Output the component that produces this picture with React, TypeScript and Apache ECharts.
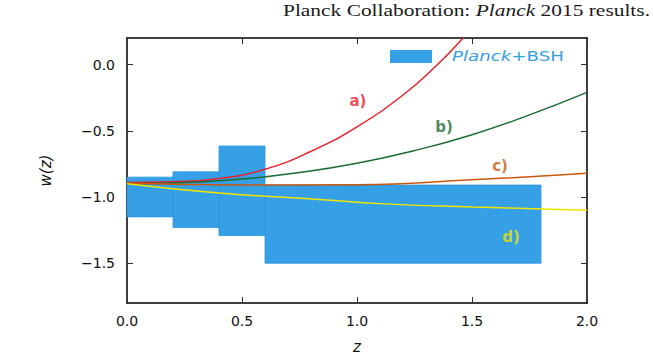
import React, { useEffect, useRef } from "react";
import * as echarts from "echarts";

// Planck+BSH binned w(z) boxes: [zStart, zEnd, wLow, wHigh]
const boxZStart = [0.0, 0.2, 0.4, 0.6];
const boxZEnd = [0.2, 0.4, 0.6, 1.8];
const boxWLow = [-1.15, -1.23, -1.29, -1.5];
const boxWHigh = [-0.85, -0.81, -0.615, -0.91];

// Model curves (z, w)
const curveAZ = [0, 0.2, 0.4, 0.6, 0.8, 1.0, 1.2, 1.35, 1.45, 1.6];
const curveAW = [-0.89, -0.884, -0.86, -0.79, -0.655, -0.47, -0.23, 0.0, 0.18, 0.48];
const curveBZ = [0, 0.25, 0.5, 0.75, 1.0, 1.25, 1.5, 1.75, 2.0];
const curveBW = [-0.9, -0.89, -0.865, -0.815, -0.745, -0.65, -0.53, -0.38, -0.21];
const curveCZ = [0, 0.5, 1.0, 1.5, 2.0];
const curveCW = [-0.895, -0.91, -0.907, -0.87, -0.82];
const curveDZ = [0, 0.4, 0.85, 1.1, 1.5, 2.0];
const curveDW = [-0.9, -0.97, -1.02, -1.05, -1.075, -1.1];

const yTicks = [0, -0.5, -1.0, -1.5];

const curveLabels = ["a)", "b)", "c)", "d)"];
const curveLabelZ = [1.004, 1.378, 1.622, 1.67];
const curveLabelW = [-0.274, -0.47, -0.763, -1.3];
const curveColors = ["#e8202a", "#1b6b32", "#c9560c", "#f2e600"];

const BLUE = "#35a0e6";

const fmt = (v: number) => {
  const s = Math.abs(v).toFixed(1);
  return v < -1e-9 ? "\u2212" + s : s;
};

const zip = (a: number[], b: number[]) => a.map((v, i) => [v, b[i]]);

export default function App() {
  const ref = useRef<HTMLDivElement>(null);
  useEffect(() => {
    if (!ref.current) return;
    const chart = echarts.init(ref.current, undefined, { renderer: "svg" });
    const axisLine = { show: true, onZero: false, lineStyle: { color: "#000", width: 1.5 } };
    const tickStyle = { color: "#333", width: 1 };
    const labelFont = {
      fontFamily: "DejaVu Sans",
      fontSize: 14,
      color: "#111",
    };
    const boxData = boxZStart.map((z, i) => [z, boxZEnd[i], boxWLow[i], boxWHigh[i]]);

    const lineSeries = [
      [curveAZ, curveAW],
      [curveBZ, curveBW],
      [curveCZ, curveCW],
      [curveDZ, curveDW],
    ].map(([zs, ws], i) => ({
      type: "line",
      data: zip(zs, ws),
      smooth: 0.5,
      symbol: "none",
      clip: true,
      lineStyle: { color: curveColors[i], width: 1.5 },
      z: 5,
    }));

    chart.setOption({
      animation: false,
      backgroundColor: "#fff",
      grid: { left: 127, right: 66, top: 38, bottom: 51, outerBoundsMode: "none", containLabel: false },
      xAxis: [
        {
          type: "value",
          min: 0,
          max: 2,
          interval: 0.5,
          position: "bottom",
          axisLine,
          axisTick: { show: true, inside: true, length: 6, lineStyle: tickStyle },
          axisLabel: { ...labelFont, margin: 11, formatter: (v: number) => fmt(v), showMinLabel: true, showMaxLabel: true },
          splitLine: { show: false },
          name: "z",
          nameLocation: "middle",
          nameGap: 36,
          nameTextStyle: { fontFamily: "DejaVu Sans", fontSize: 15, fontStyle: "italic", color: "#111" },
        },
        {
          type: "value",
          min: 0,
          max: 2,
          interval: 0.5,
          position: "top",
          axisLine,
          axisTick: { show: true, inside: true, length: 6, lineStyle: tickStyle },
          axisLabel: { show: false },
          splitLine: { show: false },
        },
      ],
      yAxis: [
        {
          type: "value",
          min: -1.8,
          max: 0.2,
          position: "left",
          axisLine,
          axisTick: { show: true, inside: true, length: 6, lineStyle: tickStyle, customValues: yTicks },
          axisLabel: { ...labelFont, margin: 12, customValues: yTicks, formatter: (v: number) => fmt(v) },
          splitLine: { show: false },
          name: "w(z)",
          nameLocation: "middle",
          nameGap: 74,
          nameRotate: 90,
          nameTextStyle: { fontFamily: "DejaVu Sans", fontSize: 15, fontStyle: "italic", color: "#111" },
        },
        {
          type: "value",
          min: -1.8,
          max: 0.2,
          position: "right",
          axisLine,
          axisTick: { show: true, inside: true, length: 6, lineStyle: tickStyle, customValues: yTicks },
          axisLabel: { show: false, customValues: yTicks },
          splitLine: { show: false },
        },
      ],
      series: [
        {
          type: "custom",
          data: boxData,
          z: 1,
          renderItem: (params: any, api: any) => {
            const p0 = api.coord([api.value(0), api.value(3)]);
            const p1 = api.coord([api.value(1), api.value(2)]);
            return {
              type: "rect",
              shape: { x: p0[0], y: p0[1], width: p1[0] - p0[0], height: p1[1] - p0[1] },
              style: { fill: BLUE, stroke: "#2b95de", lineWidth: 0.8 },
            };
          },
        },
        ...lineSeries,
        {
          type: "scatter",
          symbolSize: 0,
          z: 6,
          data: curveLabels.map((t, i) => ({
            value: [curveLabelZ[i], curveLabelW[i]],
            label: {
              show: true,
              position: "inside",
              formatter: t,
              color: curveColors[i],
              fontFamily: "DejaVu Sans",
              fontWeight: "bold",
              fontSize: 15,
            },
          })),
        },
      ],
      graphic: [
        {
          type: "text",
          x: 283,
          y: 2,
          scaleX: 1.26,
          style: {
            text: "{n|Planck Collaboration: }{i|Planck}{n| 2015 results.}",
            rich: {
              n: { fontFamily: "Liberation Serif", fontSize: 17, fill: "#1a1a1a" },
              i: { fontFamily: "Liberation Serif", fontSize: 17, fontStyle: "italic", fill: "#1a1a1a" },
            },
          },
        },
        {
          type: "rect",
          x: 390,
          y: 50,
          shape: { width: 42, height: 13 },
          style: { fill: BLUE },
        },
        {
          type: "text",
          x: 452,
          y: 49,
          scaleX: 1.3,
          style: {
            text: "{i|Planck}{n|+BSH}",
            rich: {
              i: { fontFamily: "DejaVu Sans", fontSize: 14, fontStyle: "italic", fill: BLUE },
              n: { fontFamily: "DejaVu Sans", fontSize: 14, fill: BLUE },
            },
          },
        },
      ],
    });
    return () => chart.dispose();
  }, []);
  return (
    <div
      ref={ref}
      style={{ position: "absolute", left: 0, top: 0, width: 653, height: 354 }}
    />
  );
}
